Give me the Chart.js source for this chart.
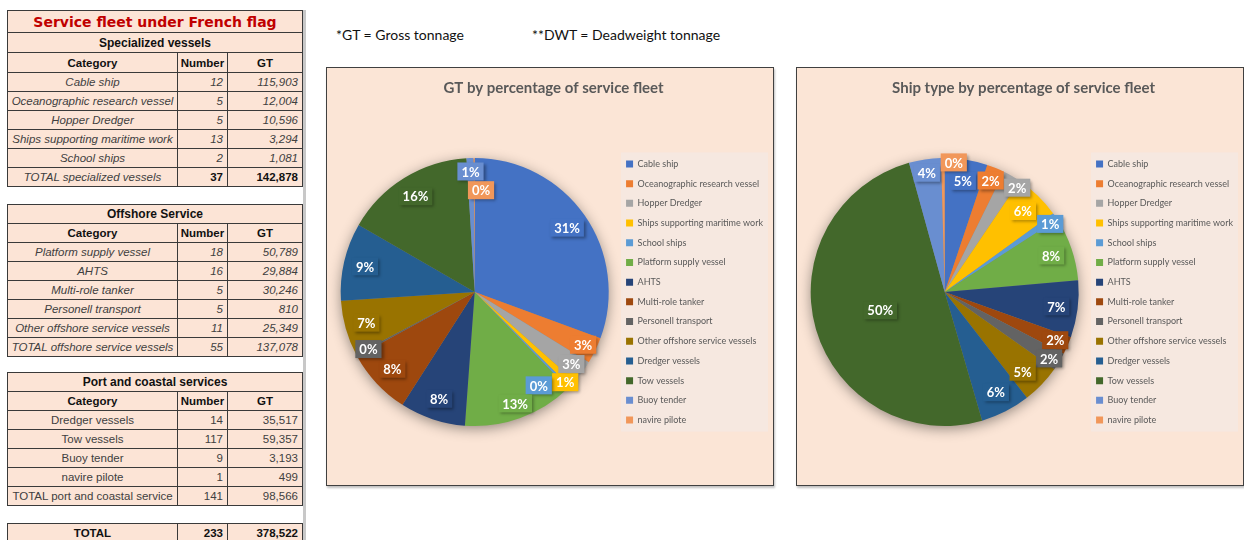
<!DOCTYPE html>
<html>
<head>
<meta charset="utf-8">
<script src="https://cdn.jsdelivr.net/npm/chart.js@4"></script>
<style>
body { margin:0; background:#fff; width:1244px; height:540px; overflow:hidden; position:relative; font-family:"Liberation Sans", Arial, sans-serif; }
.tbl { position:absolute; left:7px; border-collapse:collapse; table-layout:fixed; background:#FCE4D6; }
.tbl td { border:1px solid #3a3a3a; padding:0 4px; height:18px; font-size:11.5px; color:#404040; white-space:nowrap; overflow:hidden; line-height:14px; }
.tbl td.cat { text-align:center; padding:0 1px; }
.tbl td.num { text-align:right; }
.tbl td.head { text-align:center; font-weight:bold; color:#111; font-size:11.5px; }
.tbl td.sect { text-align:center; font-weight:bold; color:#111; font-size:12px; }
.tbl td.tall { height:19px; }
.tbl td.main { text-align:center; font-weight:bold; color:#C00000; font-size:14px; height:21px; font-family:"DejaVu Sans", sans-serif; }
.it td { font-style:italic; }
.note { position:absolute; top:26px; font-family:Lato, sans-serif; font-size:14px; color:#111; }
.box { position:absolute; top:67px; width:446px; height:417px; border:1px solid #404040; background:#FBE5D6; box-shadow:1px 2px 2px rgba(0,0,0,0.25); }
.box canvas { position:absolute; left:0; top:0; }
#sidebar { position:absolute; left:303px; top:10px; width:3px; height:530px; background:#c8c8c8; }
</style>
</head>
<body>
<div id="sidebar"></div>
<div id="tables"></div>
<div class="note" style="left:336px">*GT = Gross tonnage</div>
<div class="note" style="left:532px">**DWT = Deadweight tonnage</div>
<div class="box" style="left:326px"><canvas id="gt_chart" width="450" height="417"></canvas></div>
<div class="box" style="left:796px"><canvas id="type_chart" width="450" height="417"></canvas></div>
<script>
var categories = ['Cable ship', 'Oceanographic research vessel', 'Hopper Dredger', 'Ships supporting maritime work', 'School ships',
	'Platform supply vessel', 'AHTS', 'Multi-role tanker', 'Personell transport', 'Other offshore service vessels',
	'Dredger vessels', 'Tow vessels', 'Buoy tender', 'navire pilote'];
var ship_numbers = [12, 5, 5, 13, 2, 18, 16, 5, 5, 11, 14, 117, 9, 1];
var gross_tonnage = [115903, 12004, 10596, 3294, 1081, 50789, 29884, 30246, 810, 25349, 35517, 59357, 3193, 499];
var group_names = ['Specialized vessels', 'Offshore Service', 'Port and coastal services'];
var group_totals = ['TOTAL specialized vessels', 'TOTAL offshore service vessels', 'TOTAL port and coastal service'];
var group_start = [0, 5, 10];
var group_end = [5, 10, 14];
var slice_colors = ['#4472C4', '#ED7D31', '#A5A5A5', '#FFC000', '#5B9BD5', '#70AD47', '#264478',
	'#9E480E', '#636363', '#997300', '#255E91', '#43682B', '#698ED0', '#F1975A'];

function fmt(n){ return n.toLocaleString('en-US'); }
function sum(a){ return a.reduce(function(s, v){ return s + v; }, 0); }

// tables
var tops = [10, 204, 372];
var html = '';
for (var g = 0; g < 3; g++) {
	var italic = g < 2 ? ' it' : '';
	var tall = g == 0 ? ' tall' : '';
	html += '<table class="tbl" style="top:' + tops[g] + 'px"><colgroup><col style="width:170px"><col style="width:50px"><col style="width:75px"></colgroup>';
	if (g == 0) html += '<tr><td class="main" colspan="3">Service fleet under French flag</td></tr>';
	html += '<tr><td class="sect' + tall + '" colspan="3">' + group_names[g] + '</td></tr>';
	html += '<tr><td class="head' + tall + '">Category</td><td class="head' + tall + '" style="padding:0 1px">Number</td><td class="head' + tall + '">GT</td></tr>';
	var n = ship_numbers.slice(group_start[g], group_end[g]);
	var t = gross_tonnage.slice(group_start[g], group_end[g]);
	for (var i = group_start[g]; i < group_end[g]; i++) {
		html += '<tr class="' + italic + '"><td class="cat">' + categories[i] + '</td><td class="num">' + ship_numbers[i] + '</td><td class="num">' + fmt(gross_tonnage[i]) + '</td></tr>';
	}
	var bold = g == 0 ? 'font-weight:bold;color:#111;font-style:normal' : '';
	html += '<tr class="' + italic + '"><td class="cat">' + group_totals[g] + '</td><td class="num" style="' + bold + '">' + sum(n) + '</td><td class="num" style="' + bold + '">' + fmt(sum(t)) + '</td></tr>';
	html += '</table>';
}
html += '<table class="tbl" style="top:523px"><colgroup><col style="width:170px"><col style="width:50px"><col style="width:75px"></colgroup>';
html += '<tr><td class="head">TOTAL</td><td class="num" style="font-weight:bold;color:#111">' + sum(ship_numbers) + '</td><td class="num" style="font-weight:bold;color:#111">' + fmt(sum(gross_tonnage)) + '</td></tr></table>';
document.getElementById('tables').innerHTML = html;

// pie shadow under the slices
var pie_shadow = {
	id: 'pie_shadow',
	beforeDatasetsDraw: function(chart) {
		var arc = chart.getDatasetMeta(0).data[0];
		var ctx = chart.ctx;
		ctx.save();
		ctx.shadowColor = 'rgba(0,0,0,0.45)';
		ctx.shadowBlur = 14;
		ctx.shadowOffsetY = 3;
		ctx.fillStyle = '#888';
		ctx.beginPath();
		ctx.arc(arc.x, arc.y, arc.outerRadius - 1, 0, Math.PI * 2);
		ctx.fill();
		ctx.restore();
	}
};

// light panel behind the legend
var legend_bg = {
	id: 'legend_bg',
	beforeDraw: function(chart) {
		var boxes = chart.legend.legendHitBoxes;
		var l = boxes[0].left, r = l, t = boxes[0].top, b = t;
		boxes.forEach(function(h){
			r = Math.max(r, h.left + h.width);
			b = Math.max(b, h.top + h.height);
		});
		var ctx = chart.ctx;
		ctx.save();
		ctx.fillStyle = '#F6E8E0';
		ctx.fillRect(l - 5, t - 7, r - l + 10, b - t + 14);
		ctx.restore();
	}
};

// percentage labels in coloured boxes, nudged to the nearest free spot
var pct_labels = {
	id: 'pct_labels',
	afterDatasetsDraw: function(chart) {
		var ctx = chart.ctx;
		var data = chart.data.datasets[0].data;
		var total = sum(data);
		var placed = [];
		ctx.save();
		ctx.font = 'bold 13px Lato, sans-serif';
		ctx.textAlign = 'center';
		ctx.textBaseline = 'middle';
		chart.getDatasetMeta(0).data.forEach(function(arc, i){
			var share = data[i] / total;
			var txt = Math.round(share * 100) + '%';
			var w = ctx.measureText(txt).width + 8, h = 18;
			var mid = (arc.startAngle + arc.endAngle) / 2;
			var r = arc.outerRadius * (share > 0.4 ? 0.5 : (share < 0.04 ? 0.9 : 0.84));
			var x0 = arc.x + Math.cos(mid) * r;
			var y0 = arc.y + Math.sin(mid) * r;
			var x = x0, y = y0, found = false;
			for (var d = 0; d < 150 && !found; d += 2) {
				for (var a = 0; a < 360; a += 10) {
					var cx = x0 + d * Math.cos(a * Math.PI / 180);
					var cy = y0 + d * Math.sin(a * Math.PI / 180);
					if (d > 0 && Math.hypot(cx - arc.x, cy - arc.y) > arc.outerRadius - 2) continue;
					var hit = placed.some(function(p){
						return Math.abs(p.x - cx) < (p.w + w) / 2 && Math.abs(p.y - cy) < h;
					});
					if (!hit) { x = cx; y = cy; found = true; break; }
					if (d == 0) break;
				}
			}
			placed.push({x: x, y: y, w: w});
			ctx.shadowColor = 'rgba(0,0,0,0.35)';
			ctx.shadowBlur = 3;
			ctx.shadowOffsetX = 2;
			ctx.shadowOffsetY = 2;
			ctx.fillStyle = slice_colors[i];
			ctx.fillRect(x - w / 2, y - h / 2, w, h);
			ctx.shadowColor = 'transparent';
			ctx.fillStyle = '#fff';
			ctx.fillText(txt, x, y + 1);
		});
		ctx.restore();
	}
};

function load_pie(id, title, values){
	var ctx = document.getElementById(id);
	return new Chart(ctx, {
		type: 'pie',
		data: {
			labels: categories,
			datasets: [{
				data: values,
				backgroundColor: slice_colors,
				borderWidth: 0
			}]
		},
		options: {
			responsive: false,
			animation: false,
			radius: 134,
			layout: { padding: { left: 7, right: 4, top: 0, bottom: 13 } },
			plugins: {
				title: {
					display: true,
					text: title,
					color: '#595959',
					font: { family: 'Lato', size: 15, weight: 'bold' },
					padding: { top: 11, bottom: 15 }
				},
				legend: {
					display: true,
					position: 'right',
					fullSize: false,
					labels: {
						boxWidth: 7,
						boxHeight: 7,
						padding: 10.7,
						color: '#595959',
						font: { family: 'Lato', size: 9 }
					}
				},
				tooltip: { enabled: false }
			}
		},
		plugins: [legend_bg, pie_shadow, pct_labels]
	});
}

load_pie('gt_chart', 'GT by percentage of service fleet', gross_tonnage);
load_pie('type_chart', 'Ship type by percentage of service fleet', ship_numbers);
</script>
</body>
</html>
